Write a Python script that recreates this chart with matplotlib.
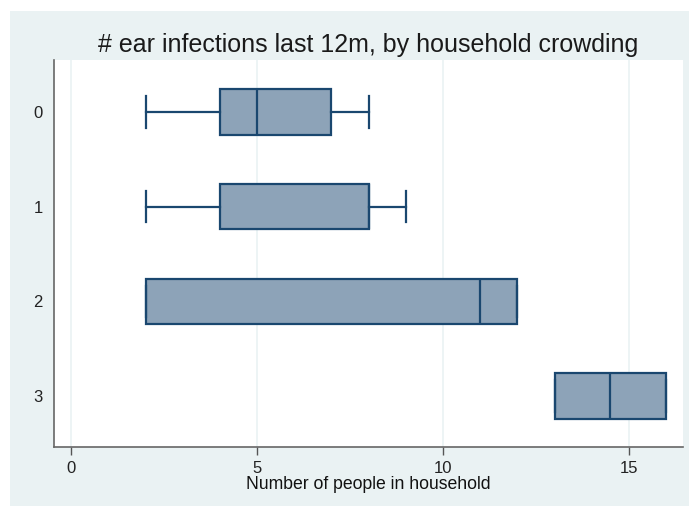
import matplotlib
matplotlib.use("Agg")
import matplotlib.pyplot as plt
from matplotlib.patches import Rectangle

plt.rcParams['font.family'] = ['Liberation Sans', 'DejaVu Sans']

categories = ["0", "1", "2", "3"]
whislo = [2, 2, 2, 13]
q1 = [4, 4, 2, 13]
med = [5, 8, 11, 14.5]
q3 = [7, 8, 12, 16]
whishi = [8, 9, 12, 16]
xticks = [0, 5, 10, 15]

W, H = 689, 509
fig = plt.figure(figsize=(W / 100, H / 100), dpi=100)
fig.patch.set_facecolor("white")
bg = "#EAF2F3"
fig.patches.append(Rectangle((10 / W, 3 / H), (W - 10) / W, (H - 14) / H,
                             transform=fig.transFigure, facecolor=bg, edgecolor="none", zorder=-10))

ax = fig.add_axes([54 / W, 1 - 447 / H, (683 - 54) / W, (447 - 60) / H])
ax.set_zorder(1)
ax.set_facecolor("white")

stats = []
for i in range(len(categories)):
    stats.append(dict(whislo=whislo[i], q1=q1[i], med=med[i], q3=q3[i], whishi=whishi[i], fliers=[]))

navy = "#1A476F"
fill = "#8DA3B8"
ax.bxp(stats, positions=range(len(categories)), vert=False, widths=0.48, capwidths=0.33,
       patch_artist=True, showfliers=False,
       boxprops=dict(facecolor=fill, edgecolor=navy, linewidth=1.6),
       medianprops=dict(color=navy, linewidth=1.6),
       whiskerprops=dict(color=navy, linewidth=1.6),
       capprops=dict(color=navy, linewidth=1.6))

ax.set_xlim(-0.46, 16.45)
ax.set_ylim(3.54, -0.55)
ax.set_yticks(range(len(categories)))
ax.set_yticklabels(categories, fontsize=12, color="#222222")
ax.set_xticks(xticks)
ax.set_xticklabels([str(t) for t in xticks], fontsize=12, color="#222222")
ax.tick_params(axis='y', length=0, pad=8)
ax.tick_params(axis='x', length=6, width=1, color="#555555", pad=4)
for x in xticks:
    ax.axvline(x, color=bg, linewidth=1.2, zorder=0)
ax.spines['top'].set_visible(False)
ax.spines['right'].set_visible(False)
ax.spines['left'].set_color("#666666")
ax.spines['bottom'].set_color("#666666")
ax.spines['left'].set_linewidth(1.2)
ax.spines['bottom'].set_linewidth(1.2)

ax.set_xlabel("Number of people in household", fontsize=12.7, labelpad=0, color="#111111")
fig.text((54 + 683) / 2 / W, 1 - 45 / H, "# ear infections last 12m, by household crowding",
         ha="center", va="center", fontsize=18, color="#1a1a1a")

fig.savefig("out.png", dpi=100, facecolor=fig.get_facecolor())
